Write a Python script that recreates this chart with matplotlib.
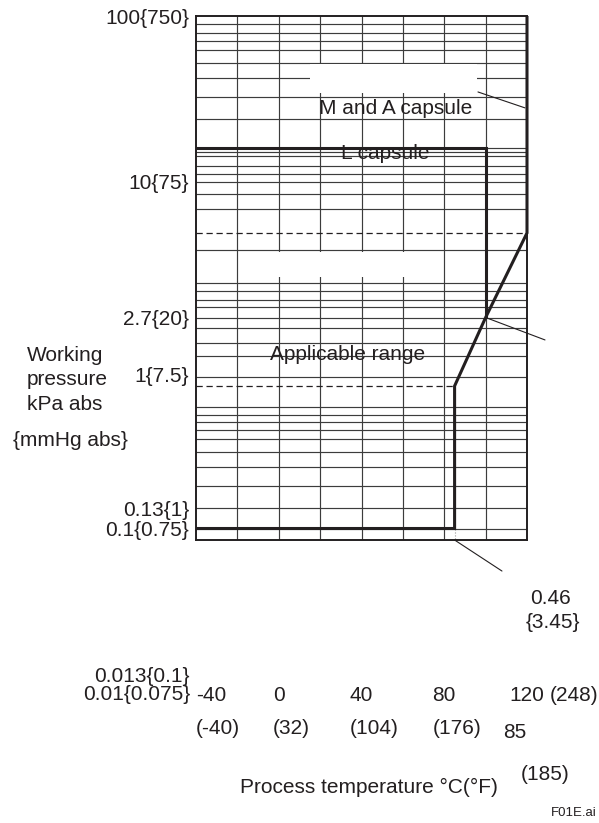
import numpy as np
import matplotlib.pyplot as plt
from matplotlib.patches import Rectangle

plt.rcParams['font.family'] = ['Liberation Sans', 'DejaVu Sans']

# pressure axis labels: kPa abs {mmHg abs}
tick_kpa = [100, 10, 2.7, 1, 0.13, 0.1]
tick_labels = ['100{750}', '10{75}', '2.7{20}', '1{7.5}', '0.13{1}', '0.1{0.75}']
extra_kpa = [0.013, 0.01]
extra_labels = ['0.013{0.1}', '0.01{0.075}']

# the printed pressure scale is not a true log scale:
# height (px above the frame bottom) of each labelled pressure
scale_kpa = [0.01, 0.013, 0.1, 0.13, 1, 2.7, 10, 100]
scale_pos = [-153, -135, 11.5, 31.7, 154, 222.5, 358.3, 524]

# temperature axis, degC with degF below
temp_c = [-40, 0, 40, 80, 120]
temp_f = ['(-40)', '(32)', '(104)', '(176)', '(248)']

# rulings of the chart paper
grid_temp = [-20, 0, 20, 40, 60, 80, 100]
grid_kpa = [89, 79, 71, 62, 52, 42, 32.6, 24, 16, 15.2, 14.2, 12.5, 11.1, 10,
            8.85, 7.7, 5.2, 3.77, 3.49, 3.21, 2.99, 2.7, 2.31, 1.87, 1.55, 1.14,
            0.70, 0.62, 0.55, 0.48, 0.41, 0.33, 0.26, 0.19, 0.13, 0.1]

# limits of the applicable range (degC, kPa abs)
l_temp = [-40, 100, 100]
l_kpa = [16, 16, 2.7]
ma_temp = [120, 120, 100]
ma_kpa = [100, 6.1, 2.7]
base_temp = [100, 85, 85, -40]
base_kpa = [2.7, 1, 0.1, 0.1]

ink = '#231f20'
rule = '#3c3c3c'
fs = 15

log_anchor = np.log10(scale_kpa)


def fwd(p):
    p = np.clip(np.asarray(p, dtype=float), 1e-6, None)
    return np.interp(np.log10(p), log_anchor, scale_pos)


def inv(h):
    return 10 ** np.interp(h, scale_pos, log_anchor)


W, H = 599, 823
fig = plt.figure(figsize=(W / 100, H / 100), dpi=100)
ax = fig.add_axes([196 / W, 1 - 540 / H, 331 / W, 524 / H])
ax.set_yscale('function', functions=(fwd, inv))
ax.set_xlim(-40, 120)
ax.set_ylim(inv(0), 100)

ax.set_xticks([])
ax.set_yticks(tick_kpa, tick_labels)
ax.minorticks_off()
ax.tick_params(axis='y', length=0, pad=5, labelsize=fs, labelcolor=ink)
ax.get_yticklabels()[tick_kpa.index(1)].set_verticalalignment('bottom')
for s in ax.spines.values():
    s.set_color(ink)
    s.set_linewidth(1.4)

# chart paper
for t in grid_temp:
    ax.axvline(t, color=rule, lw=0.85, zorder=1)
for p in grid_kpa:
    ax.axhline(p, color=rule, lw=0.85, zorder=1)

# blank patches left in the ruling
ax.add_patch(Rectangle((15, 34.5), 81, 51.5 - 34.5, fc='white', ec='none', zorder=1.5))
ax.add_patch(Rectangle((-15, 4.0), 90, 5.1 - 4.0, fc='white', ec='none', zorder=1.5))

# dashed reference levels
ax.hlines(ma_kpa[1], -40, ma_temp[1], colors=ink, lw=0.9, linestyles=(0, (5, 3)), zorder=2)
ax.hlines(base_kpa[1], -40, base_temp[1], colors=ink, lw=0.9, linestyles=(0, (5, 3)), zorder=2)
ax.plot([base_temp[2], base_temp[2]], [base_kpa[2], inv(0)], color='#9a9a9a',
        lw=0.8, ls=':', zorder=2)

# boundary lines
kw = dict(color=ink, lw=2.2, solid_joinstyle='miter', solid_capstyle='butt',
          zorder=4, clip_on=False)
ax.plot(l_temp, l_kpa, **kw)
ax.plot(ma_temp, ma_kpa, **kw)
ax.plot(base_temp, base_kpa, **kw)

# leader lines
lead = dict(arrowstyle='-', color=ink, lw=0.8, shrinkA=0, shrinkB=0)
ax.annotate('', xy=(119, 27.9), xytext=(96.3, 34.8), arrowprops=lead,
            annotation_clip=False)
ax.annotate('', xy=(l_temp[-1], l_kpa[-1]), xytext=(128.7, 1.95), arrowprops=lead,
            annotation_clip=False)
ax.annotate('', xy=(base_temp[2], inv(0)), xytext=(107.9, 0.0553), arrowprops=lead,
            annotation_clip=False)

# labels inside the chart
ax.text(56.4, 27.7, 'M and A capsule', fontsize=fs, color=ink, ha='center', va='center', zorder=5)
ax.text(51.4, 14.9, 'L capsule', fontsize=fs, color=ink, ha='center', va='center', zorder=5)
ax.text(33.5, 1.57, 'Applicable range', fontsize=fs, color=ink, ha='center', va='center', zorder=5)

# pressure labels below the frame
ytrans = ax.get_yaxis_transform()
for p, s in zip(extra_kpa, extra_labels):
    ax.text(-0.018, p, s, transform=ytrans, ha='right', va='center_baseline',
            fontsize=fs, color=ink, clip_on=False)

# temperature labels
xtrans = ax.get_xaxis_transform()
for c, f in zip(temp_c, temp_f):
    ha = 'left' if c == temp_c[0] else 'center'
    t = ax.text(c, -0.296, str(c), transform=xtrans, ha=ha, va='center',
                fontsize=fs, color=ink, clip_on=False)
    if c == temp_c[-1]:
        ax.annotate(f, xy=(1, 0.5), xycoords=t, xytext=(4, 0), textcoords='offset points',
                    ha='left', va='center', fontsize=fs, color=ink)
    else:
        ax.annotate(f, xy=(0, 0.5), xycoords=t, xytext=(0, -24), textcoords='offset points',
                    ha='left', va='center', fontsize=fs, color=ink)


def note(x, y, s, **kw):
    fig.text(x / W, 1 - y / H, s, fontsize=fs, color=ink, va='center', **kw)


note(27, 356, 'Working')
note(27, 380, 'pressure')
note(27, 404, 'kPa abs')
note(13, 441, '{mmHg abs}')
note(530, 599, '0.46')
note(526, 623, '{3.45}')
note(503, 733, '85')
note(521, 774, '(185)')
note(240, 787, 'Process temperature °C(°F)')
fig.text(597 / W, 1 - 813 / H, 'F01E.ai', fontsize=9.5, color=ink, ha='right', va='center')

fig.savefig('out.png', dpi=100)
